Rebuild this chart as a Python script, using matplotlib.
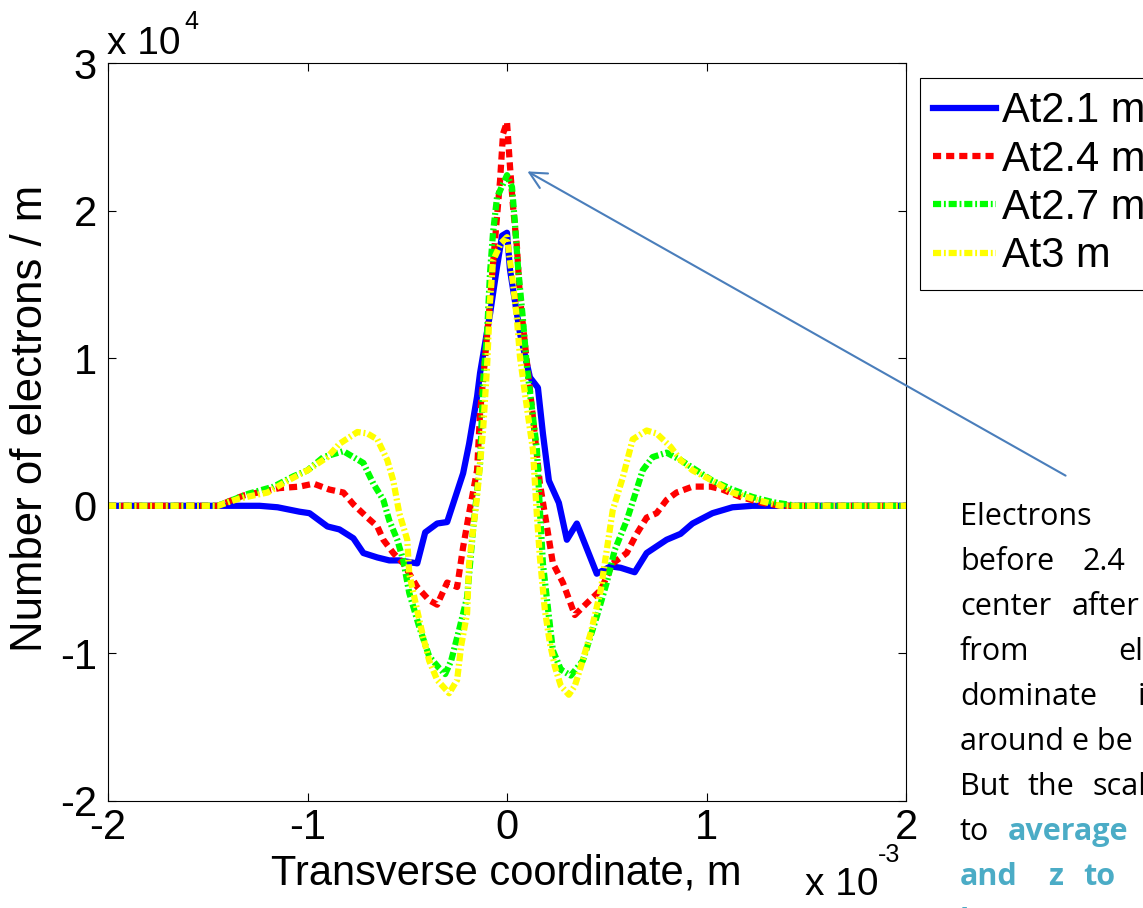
import matplotlib
matplotlib.use("Agg")
import matplotlib.pyplot as plt

# transverse coordinate in units of 1e-3 m, electron counts in units of 1e4 per m
x_21 = [-2.0, -1.37, -1.24, -1.15, -1.04, -0.99, -0.90, -0.84, -0.77, -0.72, -0.65,
        -0.59, -0.54, -0.45, -0.41, -0.35, -0.30, -0.22, -0.19, -0.15, -0.135, -0.085,
        -0.05, -0.025, 0.0, 0.015, 0.065, 0.115, 0.155, 0.18, 0.21, 0.26, 0.30, 0.35,
        0.45, 0.52, 0.57, 0.64, 0.70, 0.80, 0.87, 0.93, 1.03, 1.13, 1.23, 1.33, 2.0]
n_21 = [0, 0, 0, -0.01, -0.04, -0.05, -0.14, -0.16, -0.22, -0.32, -0.35,
        -0.37, -0.37, -0.39, -0.18, -0.12, -0.11, 0.22, 0.42, 0.74, 0.90, 1.30,
        1.62, 1.83, 1.85, 1.60, 1.17, 0.87, 0.80, 0.49, 0.17, 0.02, -0.23, -0.12,
        -0.46, -0.41, -0.42, -0.45, -0.32, -0.23, -0.19, -0.12, -0.05, -0.01, 0, 0, 0]

x_24 = [-2.0, -1.45, -1.32, -1.14, -1.04, -0.97, -0.89, -0.82, -0.77, -0.70, -0.65,
        -0.62, -0.57, -0.52, -0.45, -0.39, -0.35, -0.30, -0.25, -0.22, -0.19, -0.15,
        -0.135, -0.10, -0.06, -0.035, -0.02, 0.0, 0.015, 0.03, 0.05, 0.065, 0.10,
        0.13, 0.165, 0.20, 0.23, 0.28, 0.34, 0.40, 0.47, 0.53, 0.60, 0.65, 0.70,
        0.75, 0.80, 0.85, 0.93, 1.02, 1.08, 1.17, 1.28, 1.37, 1.5, 2.0]
n_24 = [0, 0, 0.07, 0.12, 0.13, 0.15, 0.11, 0.09, 0.01, -0.08, -0.14,
        -0.23, -0.32, -0.39, -0.55, -0.64, -0.67, -0.52, -0.55, -0.28, -0.05, 0.24,
        0.63, 1.15, 1.80, 2.20, 2.52, 2.60, 2.30, 2.03, 1.75, 1.41, 0.97,
        0.60, 0.15, -0.14, -0.39, -0.52, -0.74, -0.66, -0.57, -0.39, -0.32, -0.19, -0.08,
        -0.05, 0.04, 0.09, 0.13, 0.13, 0.11, 0.06, 0.02, 0, 0, 0]

x_27 = [-2.0, -1.45, -1.30, -1.17, -1.07, -1.0, -0.92, -0.82, -0.77, -0.72, -0.67,
        -0.62, -0.59, -0.55, -0.52, -0.49, -0.44, -0.39, -0.34, -0.31, -0.28, -0.24,
        -0.20, -0.17, -0.135, -0.12, -0.10, -0.085, -0.07, -0.05, 0.0, 0.025, 0.04,
        0.055, 0.08, 0.10, 0.15, 0.165, 0.18, 0.21, 0.23, 0.27, 0.32, 0.38, 0.45,
        0.50, 0.54, 0.60, 0.65, 0.68, 0.73, 0.80, 0.87, 0.95, 1.03, 1.13, 1.23,
        1.33, 1.45, 2.0]
n_27 = [0, 0, 0.08, 0.13, 0.20, 0.24, 0.33, 0.37, 0.33, 0.29, 0.15,
        0.04, -0.10, -0.23, -0.37, -0.59, -0.82, -1.02, -1.10, -1.14, -1.05, -0.84,
        -0.62, -0.16, 0.29, 0.83, 1.17, 1.58, 1.85, 2.09, 2.24, 2.16, 1.91,
        1.62, 1.26, 0.94, 0.38, -0.03, -0.39, -0.75, -0.98, -1.11, -1.15, -1.05, -0.75,
        -0.52, -0.30, -0.10, 0.11, 0.24, 0.33, 0.36, 0.31, 0.24, 0.17, 0.11, 0.06,
        0.025, 0, 0]

x_30 = [-2.0, -1.45, -1.34, -1.2, -1.1, -1.0, -0.9, -0.84, -0.75, -0.70, -0.65,
        -0.60, -0.57, -0.54, -0.50, -0.49, -0.45, -0.42, -0.39, -0.35, -0.29, -0.25,
        -0.23, -0.20, -0.19, -0.15, -0.12, -0.10, -0.085, -0.07, -0.03, 0.0, 0.015,
        0.03, 0.05, 0.065, 0.09, 0.115, 0.13, 0.15, 0.165, 0.19, 0.215, 0.24, 0.27,
        0.31, 0.34, 0.37, 0.42, 0.47, 0.50, 0.53, 0.58, 0.63, 0.70, 0.75, 0.82,
        0.87, 0.93, 1.03, 1.13, 1.25, 1.37, 1.5, 2.0]
n_30 = [0, 0, 0.05, 0.09, 0.17, 0.24, 0.33, 0.42, 0.50, 0.49, 0.45,
        0.31, 0.17, -0.05, -0.23, -0.46, -0.71, -0.89, -1.05, -1.18, -1.27, -1.18,
        -0.95, -0.73, -0.39, 0.06, 0.51, 0.94, 1.39, 1.66, 1.78, 1.82, 1.66,
        1.51, 1.26, 1.01, 0.76, 0.52, 0.38, -0.07, -0.35, -0.71, -0.93, -1.09, -1.22,
        -1.28, -1.22, -1.09, -0.86, -0.57, -0.30, -0.03, 0.19, 0.45, 0.51, 0.49, 0.40,
        0.31, 0.24, 0.17, 0.09, 0.04, 0, 0, 0]

labels = ["At2.1 m", "At2.4 m", "At2.7 m", "At3 m"]
x_ticks = [-2, -1, 0, 1, 2]
y_ticks = [-2, -1, 0, 1, 2, 3]

W, H = 1143, 908


def fx(px):
    return px / W


def fy(py):
    return 1 - py / H


plt.rcParams["font.family"] = ["Liberation Sans", "DejaVu Sans"]
plt.rcParams["axes.unicode_minus"] = False

fig = plt.figure(figsize=(W / 100, H / 100), dpi=100)
ax = fig.add_axes([fx(108), fy(801), fx(906) - fx(108), fy(63) - fy(801)])

lw = 4.5
ax.plot(x_21, n_21, color=(0, 0, 1), lw=lw, label=labels[0])
ax.plot(x_24, n_24, color=(1, 0, 0), lw=lw, dashes=(1.3, 0.8), label=labels[1])
ax.plot(x_27, n_27, color=(0, 1, 0), lw=lw, dashes=(1.3, 0.45, 0.3, 0.45), label=labels[2])
ax.plot(x_30, n_30, color=(1, 1, 0), lw=lw, dashes=(1.3, 0.45, 0.3, 0.45), label=labels[3])

ax.set_xlim(-2, 2)
ax.set_ylim(-2, 3)
ax.set_xticks(x_ticks)
ax.set_yticks(y_ticks)
ax.tick_params(direction="in", length=5.5, width=0.8, labelsize=30,
               top=True, right=True)
ax.tick_params(axis="x", pad=5)
ax.tick_params(axis="y", pad=8)
for s in ax.spines.values():
    s.set_linewidth(0.8)

# axis labels and MATLAB style exponent labels
fig.text(fx(506), fy(885), "Transverse coordinate, m", fontsize=30,
         ha="center", va="baseline")
fig.text(fx(31), fy(418), "Number of electrons / m", fontsize=31.5,
         rotation=90, ha="center", va="center")
fig.text(fx(107), fy(54), "x 10", fontsize=28, va="baseline")
fig.text(fx(184), fy(29), "4", fontsize=18, va="baseline")
fig.text(fx(805), fy(895), "x 10", fontsize=28, va="baseline")
fig.text(fx(878), fy(862), "-3", fontsize=18, va="baseline")

leg = fig.legend(loc="upper left", bbox_to_anchor=(fx(920), fy(78)),
                 bbox_transform=fig.transFigure, fontsize=30, frameon=True,
                 fancybox=False, framealpha=1, edgecolor="black",
                 handlelength=1.5, handletextpad=0.15, labelspacing=0.2,
                 borderpad=0.32, borderaxespad=0)
leg.get_frame().set_linewidth(0.8)

# callout arrow pointing at the central peak
ax.annotate("", xy=(0.09, 2.275), xycoords="data",
            xytext=(fx(1068), fy(477)), textcoords="figure fraction",
            arrowprops=dict(arrowstyle="->", color="#4a7ebb", lw=1.5,
                            mutation_scale=30),
            annotation_clip=False)

# slide text box, clipped at the right edge of the picture
note_font = ["Open Sans", "DejaVu Sans"]
blue = "#4bacc6"
note_words = [
    ("Electrons", 960, 0, False),
    ("before", 960, 1, False), ("2.4", 1082, 1, False),
    ("center", 960, 2, False), ("after", 1072, 2, False),
    ("from", 960, 3, False), ("el", 1118, 3, False),
    ("dominate", 960, 4, False), ("in", 1138, 4, False),
    ("around e be", 960, 5, False),
    ("But", 960, 6, False), ("the", 1027, 6, False), ("scal", 1092, 6, False),
    ("to", 960, 7, False), ("average", 1008, 7, True),
    ("and", 960, 8, True), ("z", 1048, 8, True), ("to", 1083, 8, True),
    ("b", 960, 9, True),
]
for word, px, line, hl in note_words:
    fig.text(fx(px), fy(525 + 45 * line), word, family=note_font, fontsize=22,
             va="baseline", color=blue if hl else "black",
             fontweight="bold" if hl else "normal")

fig.savefig("out.png", dpi=100)
